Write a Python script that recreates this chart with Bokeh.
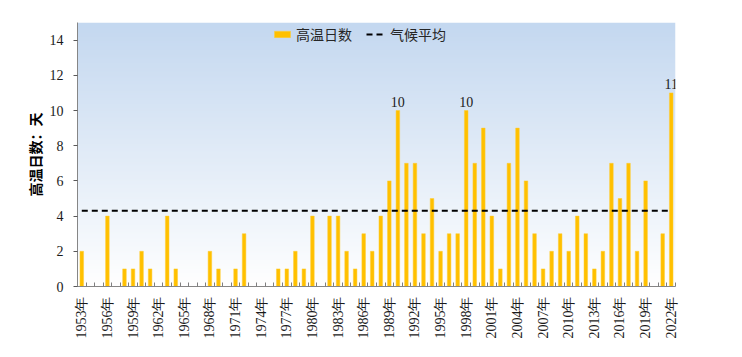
import math
import numpy as np
from bokeh.plotting import figure
from bokeh.models import (Range1d, FixedTicker, PrintfTickFormatter, Legend, LegendItem,
                          LabelSet, ColumnDataSource)
from bokeh.embed import file_html
from bokeh.resources import INLINE

years = list(range(1953, 2023))
hot_days = [2, 0, 0, 4, 0, 1, 1, 2, 1, 0,
            4, 1, 0, 0, 0, 2, 1, 0, 1, 3,
            0, 0, 0, 1, 1, 2, 1, 4, 0, 4,
            4, 2, 1, 3, 2, 4, 6, 10, 7, 7,
            3, 5, 2, 3, 3, 10, 7, 9, 4, 1,
            7, 9, 6, 3, 1, 2, 3, 2, 4, 3,
            1, 2, 7, 5, 7, 2, 6, 0, 3, 11]
climate_avg = 4.3
y_ticks = [0, 2, 4, 6, 8, 10, 12, 14]
label_years = [y for y, v in zip(years, hot_days) if v >= 10]
label_vals = [v for v in hot_days if v >= 10]

SERIF = "Liberation Serif"
CJK = "Noto Sans CJK SC"

p = figure(width=742, height=357, output_backend="svg", toolbar_location=None,
           x_range=Range1d(years[0] - 0.5, years[-1] + 0.5), y_range=Range1d(0, 15),
           min_border_left=77, min_border_right=67, min_border_top=22, min_border_bottom=71)
p.outline_line_color = None
p.grid.visible = False
p.background_fill_color = "white"
p.border_fill_color = "white"

# gradient background (light blue at top to white at bottom)
n = 300
t = np.linspace(0, 1, n)
img = np.empty((n, 1), dtype=np.uint32)
view = img.view(dtype=np.uint8).reshape((n, 1, 4))
view[:, 0, 0] = (255 + (196 - 255) * t).astype(np.uint8)
view[:, 0, 1] = (255 + (216 - 255) * t).astype(np.uint8)
view[:, 0, 2] = (255 + (240 - 255) * t).astype(np.uint8)
view[:, 0, 3] = 255
p.image_rgba(image=[img], x=years[0] - 0.5, y=0, dw=len(years), dh=15)

src = ColumnDataSource(dict(x=years, top=hot_days))
bars = p.vbar(x="x", top="top", width=0.42, source=src, fill_color="#FFC000",
              line_color="#FFCC33", line_width=0.5)
avg_line = p.line(x=[years[0], years[-1]], y=[climate_avg, climate_avg],
                  line_color="black", line_width=2, line_dash="6 4")

lsrc = ColumnDataSource(dict(x=label_years, y=label_vals, t=[str(v) for v in label_vals]))
labels = LabelSet(x="x", y="y", text="t", source=lsrc, text_align="center",
                  text_baseline="bottom", y_offset=4, text_font=SERIF,
                  text_font_size="14px", text_color="#1a1a1a")
p.add_layout(labels)

xa = p.xaxis[0]
xa.ticker = FixedTicker(ticks=years[::3],
                        minor_ticks=[y - 0.5 for y in years] + [years[-1] + 0.5])
xa.formatter = PrintfTickFormatter(format="%d年")
xa.major_tick_in = 0
xa.major_tick_out = 0
xa.major_tick_line_color = None
xa.minor_tick_in = 4
xa.minor_tick_out = 0
xa.minor_tick_line_color = "#7f7f7f"
xa.axis_line_color = "#868686"
xa.major_label_orientation = math.pi / 2
xa.major_label_standoff = 10
xa.major_label_text_font = SERIF
xa.major_label_text_font_size = "14px"
xa.major_label_text_color = "#1a1a1a"

ya = p.yaxis[0]
ya.ticker = FixedTicker(ticks=y_ticks)
ya.major_tick_in = 0
ya.major_tick_out = 4
ya.major_tick_line_color = "#595959"
ya.minor_tick_line_color = None
ya.axis_line_color = "#868686"
ya.major_label_standoff = 10
ya.major_label_text_font = SERIF
ya.major_label_text_font_size = "14px"
ya.major_label_text_color = "#1a1a1a"
ya.axis_label = "高温日数：天"
ya.axis_label_text_font = CJK
ya.axis_label_text_font_style = "bold"
ya.axis_label_text_font_size = "14px"
ya.axis_label_text_color = "black"
ya.axis_label_standoff = 2

legend = Legend(items=[LegendItem(label="高温日数", renderers=[bars]),
                       LegendItem(label="气候平均", renderers=[avg_line])],
                orientation="horizontal", location=(195, 242),
                background_fill_alpha=0, border_line_color=None,
                glyph_width=20, glyph_height=8, label_standoff=4, spacing=14,
                padding=0, margin=0,
                label_text_font=CJK, label_text_font_size="14px",
                label_text_color="#262626")
p.add_layout(legend)

open("out.html", "w").write(file_html(p, INLINE))
